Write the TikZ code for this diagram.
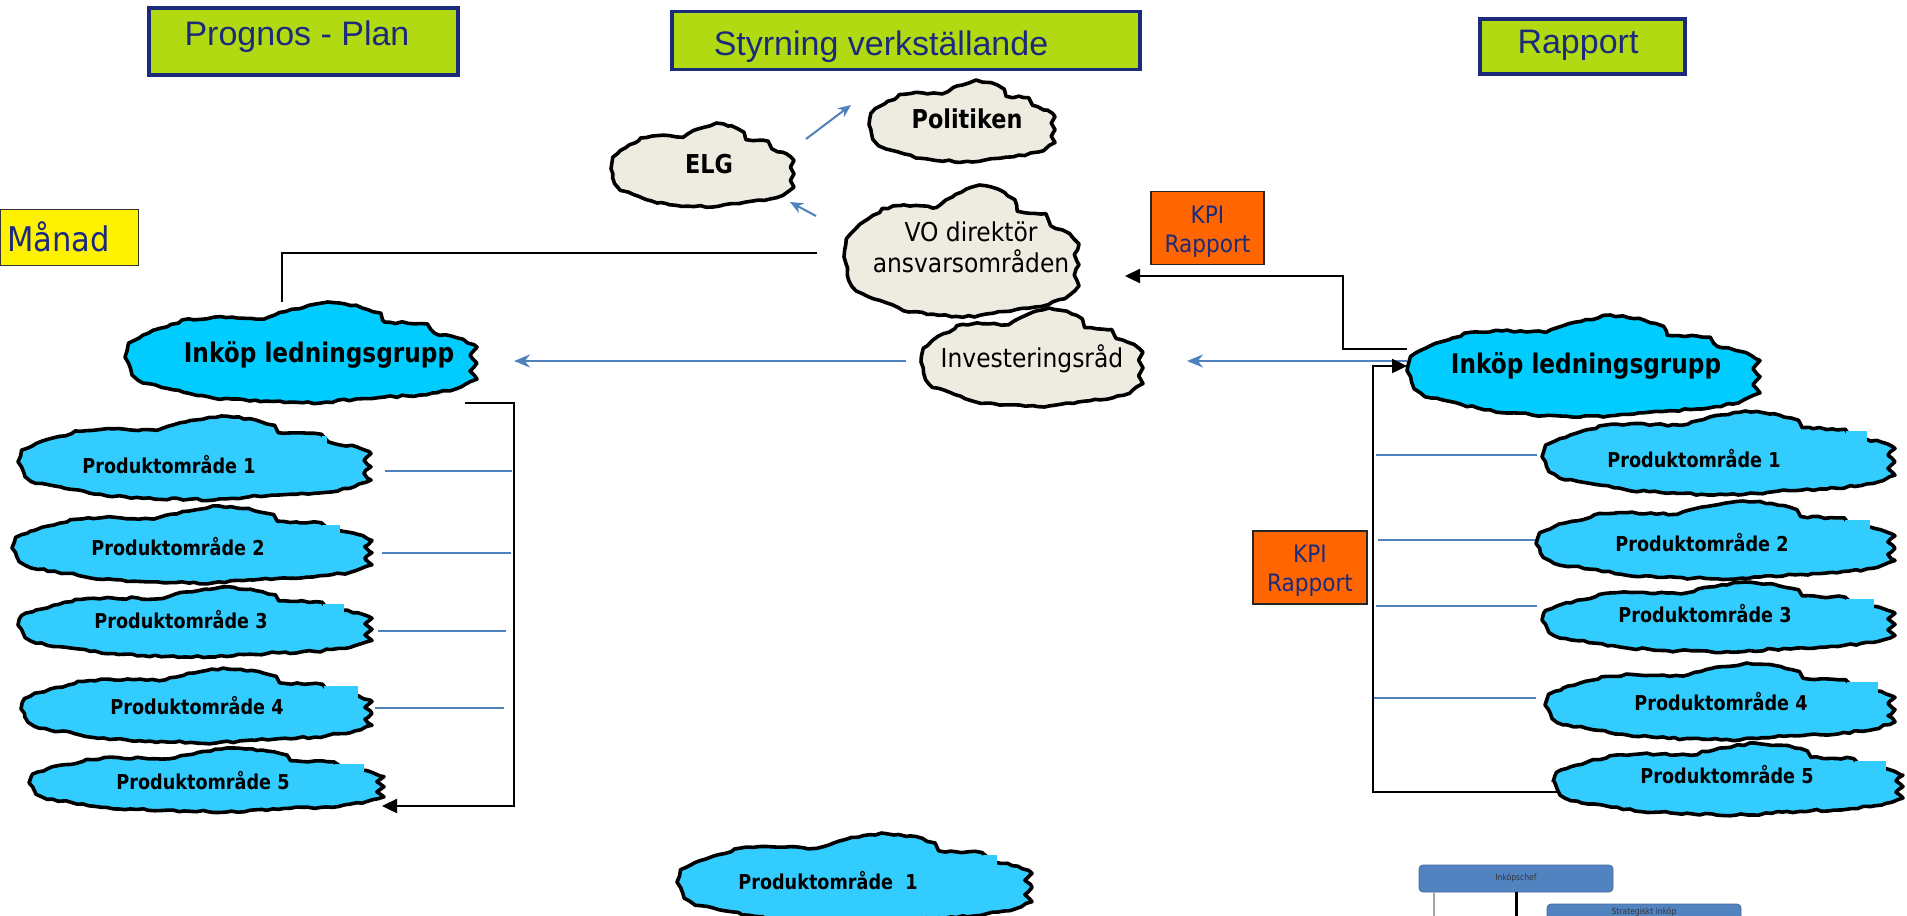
\documentclass[tikz,border=0pt]{standalone}
\usepackage{fontspec}
\setmainfont{Liberation Sans}
\newfontfamily\tahoma[FakeStretch=0.9,BoldFeatures={FakeStretch=0.86}]{DejaVu Sans}
\usetikzlibrary{decorations.pathmorphing,arrows.meta,calc}

\definecolor{navytext}{HTML}{1C2A7C}
\definecolor{titlegreen}{HTML}{B2DA12}
\definecolor{skyA}{HTML}{00CCFF}
\definecolor{skyB}{HTML}{33CCFF}
\definecolor{beigefill}{HTML}{EEECE1}
\definecolor{linkblue}{HTML}{4F81BD}
\definecolor{kpiorange}{HTML}{FF6600}
\definecolor{orgblue}{HTML}{5283C1}

\tikzset{
  titlebox/.style={draw=navytext, line width=3.5pt, fill=titlegreen, inner sep=0pt},
  titletext/.style={anchor=base, inner sep=0pt, text=navytext, font=\fontsize{34}{40}\selectfont},
  cloudline/.style={draw=black, line width=3.6pt, line join=round, decorate,
    decoration={random steps, segment length=6pt, amplitude=1.1pt}},
  anchorbox/.style={inner sep=0pt, outer sep=0pt},
  pname/.style={anchor=base, inner sep=0pt, font=\tahoma\bfseries\fontsize{20.5}{24}\selectfont},
  bigname/.style={anchor=base, inner sep=0pt, font=\tahoma\bfseries\fontsize{27}{32}\selectfont},
  midname/.style={anchor=base, inner sep=0pt, font=\tahoma\bfseries\fontsize{26}{30}\selectfont},
  plainname/.style={inner sep=0pt, font=\tahoma\fontsize{26}{31}\selectfont},
  kpibox/.style={draw=black!85, line width=1.5pt, fill=kpiorange, inner sep=0pt, align=center,
    text=navytext, font=\tahoma\fontsize{24}{29}\selectfont},
  blueline/.style={draw=linkblue, line width=2pt},
  bluearrow/.style={blueline, -{Stealth[length=16pt,width=13pt]}},
  smallarrow/.style={blueline, -{Stealth[length=13pt,width=11pt]}},
  blackline/.style={draw=black, line width=2.4pt},
  blackarrow/.style={blackline, -{Triangle[length=15pt,width=14pt]}},
  orgbox/.style={draw=orgblue!80!black, line width=0.8pt, fill=orgblue, rounded corners=4pt, inner sep=0pt},
  orgtext/.style={inner sep=0pt, text=black!80, font=\tahoma\fontsize{8.5}{10}\selectfont},
}

% cloud outline: #1 name, #2 left, #3 top, #4 width, #5 height, #6 fill
\newcommand\puff[6]{%
  \draw[cloudline, fill=#6]
    ({#2},{#3+0.545*#5})
    -- ({#2+0.010*#4},{#3+0.407*#5})
    -- ({#2+0.051*#4},{#3+0.328*#5})
    -- ({#2+0.100*#4},{#3+0.260*#5})
    -- ({#2+0.152*#4},{#3+0.209*#5})
    -- ({#2+0.162*#4},{#3+0.178*#5})
    -- ({#2+0.253*#4},{#3+0.150*#5})
    -- ({#2+0.394*#4},{#3+0.170*#5})
    -- ({#2+0.475*#4},{#3+0.071*#5})
    -- ({#2+0.576*#4},{#3})
    -- ({#2+0.657*#4},{#3+0.032*#5})
    -- ({#2+0.727*#4},{#3+0.111*#5})
    -- ({#2+0.737*#4},{#3+0.198*#5})
    -- ({#2+0.859*#4},{#3+0.217*#5})
    -- ({#2+0.879*#4},{#3+0.308*#5})
    -- ({#2+0.960*#4},{#3+0.368*#5})
    -- ({#2+#4},{#3+0.447*#5})
    -- ({#2+0.980*#4},{#3+0.526*#5})
    -- ({#2+#4},{#3+0.605*#5})
    -- ({#2+0.980*#4},{#3+0.684*#5})
    -- ({#2+#4},{#3+0.763*#5})
    -- ({#2+0.939*#4},{#3+0.862*#5})
    -- ({#2+0.838*#4},{#3+0.921*#5})
    -- ({#2+0.737*#4},{#3+0.941*#5})
    -- ({#2+0.657*#4},{#3+0.960*#5})
    -- ({#2+0.556*#4},{#3+#5})
    -- ({#2+0.354*#4},{#3+0.980*#5})
    -- ({#2+0.303*#4},{#3+0.960*#5})
    -- ({#2+0.253*#4},{#3+0.953*#5})
    -- ({#2+0.152*#4},{#3+0.874*#5})
    -- ({#2+0.051*#4},{#3+0.802*#5})
    -- ({#2+0.020*#4},{#3+0.723*#5})
    -- ({#2+0.010*#4},{#3+0.605*#5})
    -- cycle;
  \node[anchorbox, minimum width=#4pt, minimum height=#5pt] (#1) at ({#2+0.5*#4},{#3+0.5*#5}) {};
}
% product cloud with its square text-frame corner over the outline
% #1 name, #2 left, #3 top, #4 width, #5 height, #6 right end of the frame corner
\newcommand\prodpuff[6]{%
  \puff{#1}{#2}{#3}{#4}{#5}{skyB}
  \fill[skyB] ({#2+0.862*#4},{#3+0.217*#5+2.2}) rectangle ({#2+#6*#4},{#3+0.50*#5});
}

\begin{document}
\begin{tikzpicture}[x=1pt,y=-1pt]
\pgfmathsetseed{11}
\useasboundingbox (0,0) rectangle (1907,916);
\clip (0,0) rectangle (1907,916);

% ---------- column headings ----------
\node[titlebox, minimum width=309pt, minimum height=67pt] (hplan) at (303.5,41.5) {};
\node[titletext] (hplant) at (297,45) {Prognos - Plan};
\node[titlebox, minimum width=468pt, minimum height=58pt] (hstyr) at (906,40.5) {};
\node[titletext] (hstyrt) at (881,55) {Styrning verkställande};
\node[titlebox, minimum width=205pt, minimum height=55pt] (hrap) at (1582.5,46.5) {};
\node[titletext] (hrapt) at (1578,53) {Rapport};

\node[draw=black!80, line width=1.5pt, fill=yellow, minimum width=138pt, minimum height=56pt, inner sep=0pt] (manad) at (69.5,237.5) {};
\node[anchor=base west, inner sep=0pt, text=navytext, font=\tahoma\fontsize{34}{40}\selectfont] (manadt) at (7,251) {Månad};

% ---------- named levels and corners of the connectors ----------
\coordinate (kneeL) at (282,253);
\coordinate (yInv) at (0,361);
\coordinate (kneeR) at (1343,276);
\coordinate (lBar) at (514,806);
\coordinate (rBar) at (1373,792);
\coordinate (lb1) at (512,471);
\coordinate (lb2) at (511,553);
\coordinate (lb3) at (506,631);
\coordinate (lb4) at (504,708);
\coordinate (rb1) at (1376,455);
\coordinate (rb2) at (1378,540);
\coordinate (rb3) at (1376,606);
\coordinate (rb4) at (1374,698);
\coordinate (orgFoot) at (1516,930);

% ---------- invisible node frames (clouds are drawn over the lines later) ----------
\node[anchorbox, minimum width=352pt, minimum height=101pt] (inkL) at (301,352.5) {};
\node[anchorbox, minimum width=353pt, minimum height=102pt] (inkR) at (1583.5,366) {};
\node[anchorbox, minimum width=183pt, minimum height=84pt] (elg) at (702.5,165) {};
\node[anchorbox, minimum width=186pt, minimum height=82pt] (pol) at (962,121) {};
\node[anchorbox, minimum width=235pt, minimum height=132pt] (vo) at (961.5,251) {};
\node[anchorbox, minimum width=222pt, minimum height=99pt] (inv) at (1032,357.5) {};
\node[anchorbox, minimum width=353pt, minimum height=84pt] (lp1) at (194.5,458) {};
\node[anchorbox, minimum width=360pt, minimum height=77pt] (lp2) at (192,544.5) {};
\node[anchorbox, minimum width=354pt, minimum height=70pt] (lp3) at (195,622) {};
\node[anchorbox, minimum width=351pt, minimum height=75pt] (lp4) at (196.5,705.5) {};
\node[anchorbox, minimum width=355pt, minimum height=64pt] (lp5) at (206.5,780) {};
\node[anchorbox, minimum width=353pt, minimum height=84pt] (rp1) at (1718.5,453) {};
\node[anchorbox, minimum width=359pt, minimum height=78pt] (rp2) at (1715.5,540) {};
\node[anchorbox, minimum width=353pt, minimum height=70pt] (rp3) at (1718.5,617) {};
\node[anchorbox, minimum width=350pt, minimum height=77pt] (rp4) at (1720,701.5) {};
\node[anchorbox, minimum width=350pt, minimum height=72pt] (rp5) at (1728,779) {};

% ---------- connectors ----------
\draw[blackline, shorten <=27pt] (vo.west |- kneeL) -- (kneeL) -- (kneeL |- inkL.north);
\draw[bluearrow, shorten <=15pt, shorten >=37pt] (inv.west |- yInv) -- (inkL.east |- yInv);
\draw[smallarrow] ([shift={(12pt,26pt)}]elg.east) -- ([shift={(-18pt,16pt)}]pol.west);
\draw[smallarrow] ([shift={(-28pt,35pt)}]vo.west) -- ([shift={(-4pt,5pt)}]elg.south east);
\draw[blackarrow, shorten >=46pt] ([yshift=17pt]inkR.west) -| (kneeR) -- (vo.east |- kneeR);
\draw[bluearrow, shorten >=44pt] (inkR.west |- yInv) -- (inv.east |- yInv);

\draw[blackarrow, shorten >=-2pt] ([xshift=-12pt]inkL.south east) -| (lBar) -- (lp5.east |- lBar);
\draw[blueline, shorten <=14pt] (lp1.east |- lb1) -- (lb1);
\draw[blueline, shorten <=10pt] (lp2.east |- lb2) -- (lb2);
\draw[blueline, shorten <=6pt] (lp3.east |- lb3) -- (lb3);
\draw[blueline, shorten <=3pt] (lp4.east |- lb4) -- (lb4);

\draw[blackarrow] ([xshift=13pt]rp5.west |- rBar) -- (rBar) |- (inkR.west);
\draw[blueline, shorten >=5pt] (rb1) -- (rp1.west |- rb1);
\draw[blueline] (rb2) -- (rp2.west |- rb2);
\draw[blueline, shorten >=5pt] (rb3) -- (rp3.west |- rb3);
\draw[blueline, shorten >=9pt] (rb4) -- (rp4.west |- rb4);

% ---------- clouds ----------
\puff{elgc}{611}{123}{183}{84}{beigefill}
\puff{polc}{869}{80}{186}{82}{beigefill}
\puff{voc}{844}{185}{235}{132}{beigefill}
\puff{invc}{921}{308}{222}{99}{beigefill}
\puff{inkLc}{125}{302}{352}{101}{skyA}
\puff{inkRc}{1407}{315}{353}{102}{skyA}

\prodpuff{lp1c}{18}{416}{353}{84}{0.875}
\prodpuff{lp2c}{12}{506}{360}{77}{0.91}
\prodpuff{lp3c}{18}{587}{354}{70}{0.92}
\prodpuff{lp4c}{21}{668}{351}{75}{0.96}
\prodpuff{lp5c}{29}{748}{355}{64}{0.945}
\prodpuff{rp1c}{1542}{411}{353}{84}{0.92}
\prodpuff{rp2c}{1536}{501}{359}{78}{0.93}
\prodpuff{rp3c}{1542}{582}{353}{70}{0.94}
\prodpuff{rp4c}{1545}{663}{350}{77}{0.95}
\prodpuff{rp5c}{1553}{743}{350}{72}{0.95}
\prodpuff{bpc}{677}{833}{355}{90}{0.90}

% ---------- cloud labels ----------
\node[midname] (elgt) at (709,173) {ELG};
\node[midname] (polt) at (967,128) {Politiken};
\node[plainname, align=center] (vot) at (971,247) {VO direktör\\ansvarsområden};
\node[plainname, anchor=base] (invt) at (1032,367) {Investeringsråd};
\node[bigname] (inkLt) at (319,362) {Inköp ledningsgrupp};
\node[bigname] (inkRt) at (1586,373) {Inköp ledningsgrupp};

\node[pname] (lp1t) at (169,473) {Produktområde 1};
\node[pname] (lp2t) at (178,555) {Produktområde 2};
\node[pname] (lp3t) at (181,628) {Produktområde 3};
\node[pname] (lp4t) at (197,714) {Produktområde 4};
\node[pname] (lp5t) at (203,789) {Produktområde 5};
\node[pname] (rp1t) at (1694,467) {Produktområde 1};
\node[pname] (rp2t) at (1702,551) {Produktområde 2};
\node[pname] (rp3t) at (1705,622) {Produktområde 3};
\node[pname] (rp4t) at (1721,710) {Produktområde 4};
\node[pname] (rp5t) at (1727,783) {Produktområde 5};
\node[pname] (bpt) at (828,889) {Produktområde\ \ 1};

% ---------- KPI report boxes ----------
\node[kpibox, minimum width=113pt, minimum height=73pt] (kpi1) at (1207.5,228) {\rule{0pt}{24.5pt}KPI\\Rapport};
\node[kpibox, minimum width=114pt, minimum height=73pt] (kpi2) at (1310,567.5) {\rule{0pt}{24.5pt}KPI\\Rapport};

% ---------- organisation chart fragment ----------
\node[orgbox, minimum width=194pt, minimum height=27pt] (chef) at (1516,878.5) {};
\node[orgtext] (cheft) at (1516,878) {Inköpschef};
\draw[black!35, line width=1.5pt] ([xshift=-82pt]chef.south) -- ([xshift=-82pt]chef.south |- orgFoot);
\draw[black, line width=3pt] (chef.south) -- (chef.south |- orgFoot);
\node[orgbox, minimum width=194pt, minimum height=30pt] (strat) at (1644,919) {};
\node[orgtext] (stratt) at (1644,912) {Strategiskt inköp};
\end{tikzpicture}
\end{document}
